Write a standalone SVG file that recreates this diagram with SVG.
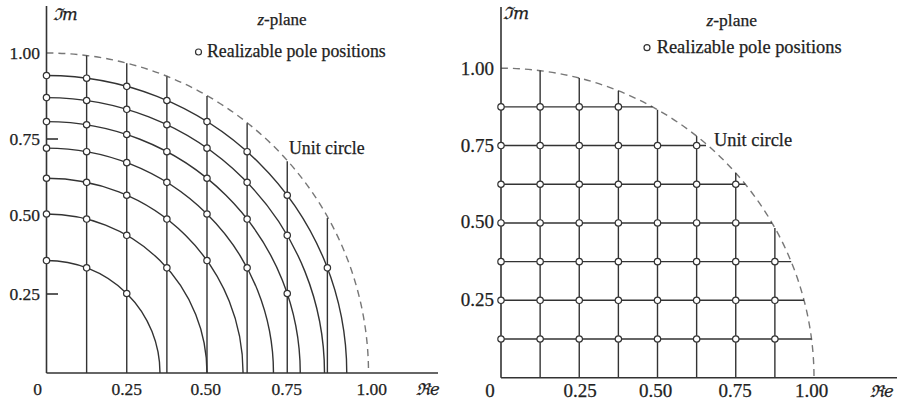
<svg xmlns="http://www.w3.org/2000/svg" width="897" height="403" viewBox="0 0 897 403">
<defs>
<style>
.ax{stroke:#333;stroke-width:1.6;fill:none}
.ln{stroke:#333;stroke-width:1.4;fill:none}
.uc{stroke:#777;stroke-width:1.4;fill:none;stroke-dasharray:7 5}
.t{font-family:"Liberation Serif","DejaVu Serif",serif;fill:#222;font-size:17.8px;stroke:#222;stroke-width:0.25}
.t2{font-family:"Liberation Serif","DejaVu Serif",serif;fill:#222;font-size:18.4px;stroke:#222;stroke-width:0.25}
.sym{font-family:"DejaVu Serif","Liberation Serif",serif;font-style:italic}
.p{fill:#fff;stroke:#333;stroke-width:1.2}
</style>
<circle id="pm" r="3.2"/>
</defs>
<rect width="897" height="403" fill="#fff"/>

<g id="left-plot">
<path class="uc" d="M46.5,53 A322,320 0 0 1 368.5,373"/>
<g id="left-verticals" class="ln">
<line x1="86.63" y1="373" x2="86.63" y2="55.5"/>
<line x1="126.75" y1="373" x2="126.75" y2="63.2"/>
<line x1="166.88" y1="373" x2="166.88" y2="76.4"/>
<line x1="207" y1="373" x2="207" y2="95.9"/>
<line x1="247.13" y1="373" x2="247.13" y2="123.2"/>
<line x1="287.25" y1="373" x2="287.25" y2="161.3"/>
<line x1="327.38" y1="373" x2="327.38" y2="218.1"/>
</g>
<g id="left-circles" class="ln">
<path d="M46.5,260.57 A113.49,112.43 0 0 1 159.99,373"/>
<path d="M46.5,214 A160.5,159 0 0 1 207,373"/>
<path d="M46.5,178.27 A196.57,194.73 0 0 1 243.07,373"/>
<path d="M46.5,148.14 A226.98,224.86 0 0 1 273.48,373"/>
<path d="M46.5,121.6 A253.77,251.4 0 0 1 300.27,373"/>
<path d="M46.5,97.6 A278,275.4 0 0 1 324.5,373"/>
<path d="M46.5,75.54 A300.27,297.46 0 0 1 346.77,373"/>
</g>
<g id="left-axes" class="ax">
<line x1="46.5" y1="6" x2="46.5" y2="373"/>
<line x1="46.5" y1="373" x2="438" y2="373"/>
<line x1="46.5" y1="139" x2="58" y2="139"/>
<line x1="46.5" y1="294" x2="58" y2="294"/>
</g>
<g id="left-poles" class="p">
<use href="#pm" x="46.5" y="260.57"/><use href="#pm" x="86.63" y="267.83"/><use href="#pm" x="126.75" y="293.5"/>
<use href="#pm" x="46.5" y="214"/><use href="#pm" x="86.63" y="219.05"/><use href="#pm" x="126.75" y="235.3"/><use href="#pm" x="166.88" y="267.83"/>
<use href="#pm" x="46.5" y="178.27"/><use href="#pm" x="86.63" y="182.37"/><use href="#pm" x="126.75" y="195.24"/><use href="#pm" x="166.88" y="219.05"/><use href="#pm" x="207" y="260.57"/>
<use href="#pm" x="46.5" y="148.14"/><use href="#pm" x="86.63" y="151.68"/><use href="#pm" x="126.75" y="162.66"/><use href="#pm" x="166.88" y="182.37"/><use href="#pm" x="207" y="214"/><use href="#pm" x="247.13" y="267.83"/>
<use href="#pm" x="46.5" y="121.6"/><use href="#pm" x="86.63" y="124.76"/><use href="#pm" x="126.75" y="134.5"/><use href="#pm" x="166.88" y="151.68"/><use href="#pm" x="207" y="178.27"/><use href="#pm" x="247.13" y="219.05"/><use href="#pm" x="287.25" y="293.5"/>
<use href="#pm" x="46.5" y="97.6"/><use href="#pm" x="86.63" y="100.48"/><use href="#pm" x="126.75" y="109.32"/><use href="#pm" x="166.88" y="124.76"/><use href="#pm" x="207" y="148.14"/><use href="#pm" x="247.13" y="182.37"/><use href="#pm" x="287.25" y="235.3"/>
<use href="#pm" x="46.5" y="75.54"/><use href="#pm" x="86.63" y="78.21"/><use href="#pm" x="126.75" y="86.36"/><use href="#pm" x="166.88" y="100.49"/><use href="#pm" x="207" y="121.6"/><use href="#pm" x="247.13" y="151.68"/><use href="#pm" x="287.25" y="195.23"/><use href="#pm" x="327.38" y="267.83"/>
</g>
<g id="left-labels" class="t">
<text x="40" y="59" text-anchor="end" font-size="17.5">1.00</text>
<text x="40" y="144.5" text-anchor="end" font-size="17.5">0.75</text>
<text x="40" y="220.5" text-anchor="end" font-size="17.5">0.50</text>
<text x="40" y="299.5" text-anchor="end" font-size="17.5">0.25</text>
<text x="37.7" y="395" text-anchor="middle" font-size="17.5">0</text>
<text x="126.7" y="395" text-anchor="middle" font-size="17.5">0.25</text>
<text x="205.7" y="395" text-anchor="middle" font-size="17.5">0.50</text>
<text x="286.7" y="395" text-anchor="middle" font-size="17.5">0.75</text>
<text x="371.7" y="395" text-anchor="middle" font-size="17.5">1.00</text>
<text x="416" y="395" class="sym" font-size="16.5">ℜe</text>
<text x="53" y="20" class="sym" font-size="16.5">ℑm</text>
<text x="282" y="25" text-anchor="middle" font-size="17"><tspan font-style="italic">z</tspan>-plane</text>
<text x="207" y="57">Realizable pole positions</text>
<text x="289" y="154">Unit circle</text>
</g>
<circle class="p" cx="198.5" cy="52" r="3"/>
</g>

<g id="right-plot">
<path class="uc" d="M501,68.2 A313,309.5 0 0 1 814,377.7"/>
<g id="right-verticals" class="ln">
<line x1="540.13" y1="377.7" x2="540.13" y2="70.6"/>
<line x1="579.25" y1="377.7" x2="579.25" y2="78"/>
<line x1="618.38" y1="377.7" x2="618.38" y2="90.8"/>
<line x1="657.5" y1="377.7" x2="657.5" y2="109.7"/>
<line x1="696.63" y1="377.7" x2="696.63" y2="136.1"/>
<line x1="735.75" y1="377.7" x2="735.75" y2="173"/>
<line x1="774.88" y1="377.7" x2="774.88" y2="227.9"/>
</g>
<g id="right-horizontals" class="ln">
<line x1="501" y1="339.01" x2="811.5" y2="339.01"/>
<line x1="501" y1="300.32" x2="804" y2="300.32"/>
<line x1="501" y1="261.64" x2="791.2" y2="261.64"/>
<line x1="501" y1="222.95" x2="772" y2="222.95"/>
<line x1="501" y1="184.26" x2="745.3" y2="184.26"/>
<line x1="501" y1="145.57" x2="706" y2="145.57"/>
<line x1="501" y1="106.89" x2="652.5" y2="106.89"/>
</g>
<g id="right-axes" class="ax">
<line x1="501" y1="7" x2="501" y2="377.7"/>
<line x1="501" y1="377.7" x2="897" y2="377.7"/>
</g>
<g id="right-poles" class="p">
<use href="#pm" x="501" y="339.01"/><use href="#pm" x="540.13" y="339.01"/><use href="#pm" x="579.25" y="339.01"/><use href="#pm" x="618.38" y="339.01"/><use href="#pm" x="657.5" y="339.01"/><use href="#pm" x="696.63" y="339.01"/><use href="#pm" x="735.75" y="339.01"/><use href="#pm" x="774.88" y="339.01"/>
<use href="#pm" x="501" y="300.32"/><use href="#pm" x="540.13" y="300.32"/><use href="#pm" x="579.25" y="300.32"/><use href="#pm" x="618.38" y="300.32"/><use href="#pm" x="657.5" y="300.32"/><use href="#pm" x="696.63" y="300.32"/><use href="#pm" x="735.75" y="300.32"/><use href="#pm" x="774.88" y="300.32"/>
<use href="#pm" x="501" y="261.64"/><use href="#pm" x="540.13" y="261.64"/><use href="#pm" x="579.25" y="261.64"/><use href="#pm" x="618.38" y="261.64"/><use href="#pm" x="657.5" y="261.64"/><use href="#pm" x="696.63" y="261.64"/><use href="#pm" x="735.75" y="261.64"/><use href="#pm" x="774.88" y="261.64"/>
<use href="#pm" x="501" y="222.95"/><use href="#pm" x="540.13" y="222.95"/><use href="#pm" x="579.25" y="222.95"/><use href="#pm" x="618.38" y="222.95"/><use href="#pm" x="657.5" y="222.95"/><use href="#pm" x="696.63" y="222.95"/><use href="#pm" x="735.75" y="222.95"/>
<use href="#pm" x="501" y="184.26"/><use href="#pm" x="540.13" y="184.26"/><use href="#pm" x="579.25" y="184.26"/><use href="#pm" x="618.38" y="184.26"/><use href="#pm" x="657.5" y="184.26"/><use href="#pm" x="696.63" y="184.26"/><use href="#pm" x="735.75" y="184.26"/>
<use href="#pm" x="501" y="145.57"/><use href="#pm" x="540.13" y="145.57"/><use href="#pm" x="579.25" y="145.57"/><use href="#pm" x="618.38" y="145.57"/><use href="#pm" x="657.5" y="145.57"/><use href="#pm" x="696.63" y="145.57"/>
<use href="#pm" x="501" y="106.89"/><use href="#pm" x="540.13" y="106.89"/><use href="#pm" x="579.25" y="106.89"/><use href="#pm" x="618.38" y="106.89"/>
</g>
<g id="right-labels" class="t2">
<text x="494" y="74.5" text-anchor="end" font-size="19">1.00</text>
<text x="494" y="151.5" text-anchor="end" font-size="19">0.75</text>
<text x="494" y="228.2" text-anchor="end" font-size="19">0.50</text>
<text x="494" y="305.5" text-anchor="end" font-size="19">0.25</text>
<text x="490" y="397" text-anchor="middle" font-size="19">0</text>
<text x="580" y="397" text-anchor="middle" font-size="19">0.25</text>
<text x="655.7" y="397" text-anchor="middle" font-size="19">0.50</text>
<text x="735" y="397" text-anchor="middle" font-size="19">0.75</text>
<text x="811.7" y="397" text-anchor="middle" font-size="19">1.00</text>
<text x="870" y="397" class="sym" font-size="16.5">ℜe</text>
<text x="503" y="19" class="sym" font-size="17">ℑm</text>
<text x="731.7" y="26" text-anchor="middle" font-size="17.5"><tspan font-style="italic">z</tspan>-plane</text>
<text x="656.7" y="53">Realizable pole positions</text>
<text x="714" y="146">Unit circle</text>
</g>
<circle class="p" cx="647" cy="47.7" r="3"/>
</g>
</svg>
